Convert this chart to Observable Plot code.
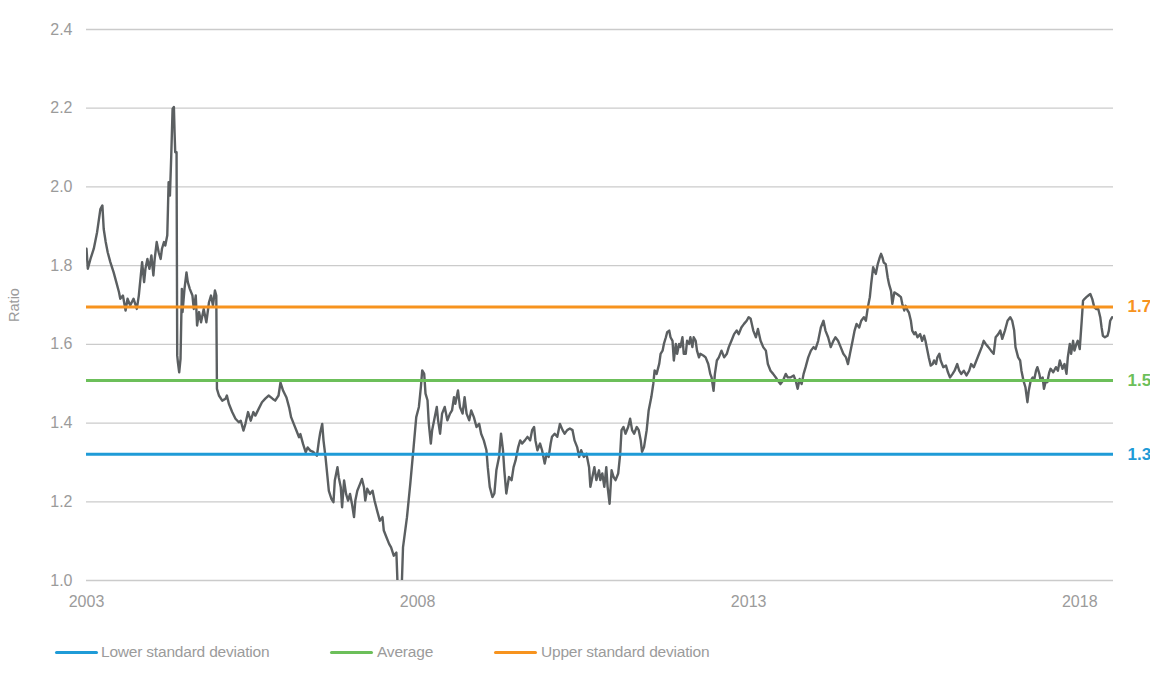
<!DOCTYPE html>
<html>
<head>
<meta charset="utf-8">
<script src="https://cdn.jsdelivr.net/npm/d3@7"></script>
<script src="https://cdn.jsdelivr.net/npm/@observablehq/plot@0.6"></script>
<style>
  html, body { margin: 0; padding: 0; background: #fff; }
  #wrap { position: relative; width: 1150px; height: 682px; font-family: "Liberation Sans", Arial, sans-serif; }
  #wrap svg { display: block; overflow: visible; }
  .lg-line { position: absolute; height: 3px; border-radius: 2px; top: 651px; width: 43px; }
  .lg-text { position: absolute; top: 642px; font-size: 15.5px; color: #9b9b9b; line-height: 19px; white-space: nowrap; letter-spacing: -0.2px; }
</style>
</head>
<body>
<div id="wrap"></div>
<script>
// ---- Data ----
const years1 = [2003.00,2003.02,2003.06,2003.11,2003.16,2003.21,2003.24,2003.26,2003.29,2003.32,
2003.36,2003.41,2003.45,2003.49,2003.51,2003.55,2003.59,2003.62,2003.66,2003.71,
2003.76,2003.79,2003.82,2003.84,2003.87,2003.89,2003.92,2003.95,2003.98,2004.01,
2004.03,2004.06,2004.09,2004.12,2004.14,2004.17,2004.19,2004.22,2004.23,2004.24,
2004.26,2004.28,2004.30,2004.32,2004.33,2004.34,2004.36,2004.37,2004.38,2004.40,
2004.42,2004.44,2004.45,2004.48,2004.51,2004.53,2004.56,2004.60,2004.62,2004.65,
2004.67,2004.70,2004.73,2004.77,2004.81,2004.85,2004.88,2004.91,2004.94,2004.96,
2004.97,2005.00,2005.05,2005.10,2005.12,2005.15,2005.20,2005.25,2005.30,2005.33,
2005.37,2005.40,2005.44,2005.48,2005.52,2005.55,2005.60,2005.65,2005.70,2005.75,
2005.81,2005.85,2005.90];
const ratios1 = [1.843,1.792,1.817,1.843,1.885,1.944,1.953,1.893,1.860,1.834,
1.809,1.783,1.758,1.733,1.716,1.724,1.686,1.716,1.699,1.716,
1.690,1.724,1.775,1.809,1.758,1.792,1.817,1.792,1.826,1.775,
1.817,1.860,1.834,1.817,1.843,1.860,1.851,1.877,1.944,2.012,
1.978,2.080,2.198,2.203,2.139,2.088,2.088,1.572,1.555,1.529,
1.563,1.741,1.682,1.741,1.783,1.758,1.741,1.724,1.690,1.724,
1.648,1.682,1.656,1.690,1.656,1.707,1.724,1.699,1.737,1.724,
1.487,1.470,1.457,1.462,1.470,1.449,1.428,1.411,1.402,1.406,
1.381,1.398,1.428,1.406,1.428,1.419,1.436,1.453,1.462,1.470,
1.462,1.457,1.470];

const years2 = [2005.93,2005.97,2006.02,2006.06,2006.09,2006.13,2006.17,2006.21,2006.23,2006.27,
2006.31,2006.34,2006.38,2006.43,2006.48,2006.51,2006.53,2006.56,2006.58,2006.61,
2006.64,2006.66,2006.70,2006.73,2006.75,2006.79,2006.81,2006.84,2006.86,2006.89,
2006.92,2006.95,2006.98,2007.01,2007.04,2007.06,2007.09,2007.13,2007.16,2007.19,
2007.21,2007.24,2007.28,2007.32,2007.35,2007.39,2007.43,2007.47,2007.49,2007.53,
2007.57,2007.60,2007.64,2007.68,2007.70,2007.76,2007.78];
const ratios2 = [1.503,1.482,1.465,1.440,1.415,1.398,1.381,1.364,1.372,1.347,
1.326,1.338,1.330,1.326,1.317,1.355,1.376,1.398,1.355,1.313,
1.262,1.228,1.207,1.199,1.254,1.288,1.262,1.237,1.186,1.254,
1.220,1.203,1.220,1.194,1.161,1.203,1.228,1.245,1.258,1.237,
1.203,1.233,1.220,1.228,1.203,1.177,1.152,1.161,1.127,1.110,
1.093,1.084,1.063,1.071,0.980,0.980,1.084];

const years3 = [2007.84,2007.89,2007.94,2007.98,2008.02,2008.05,2008.07,2008.10,2008.12,2008.15,
2008.17,2008.20,2008.22,2008.25,2008.29,2008.31,2008.34,2008.37,2008.41,2008.45,
2008.49,2008.52,2008.55,2008.57,2008.61,2008.64,2008.68,2008.71,2008.74,2008.78,
2008.81,2008.85,2008.89,2008.93,2008.96,2009.00,2009.04,2009.06,2009.09,2009.13,
2009.16,2009.19,2009.23,2009.26,2009.29,2009.31,2009.34,2009.38,2009.42,2009.45,
2009.48,2009.52,2009.55,2009.58,2009.62,2009.66,2009.70,2009.73,2009.76,2009.78,
2009.81,2009.85,2009.88,2009.92,2009.95,2009.98,2010.01,2010.03,2010.07,2010.11,
2010.15,2010.19,2010.22,2010.26,2010.30,2010.34,2010.37,2010.41,2010.44,2010.47,
2010.51,2010.55,2010.59,2010.61,2010.64,2010.67,2010.70,2010.74,2010.76,2010.79,
2010.82,2010.85,2010.87,2010.90,2010.93,2010.96,2010.99,2011.03,2011.06,2011.08,
2011.11,2011.14,2011.18,2011.21,2011.24,2011.27,2011.31,2011.34,2011.37,2011.39,
2011.42,2011.46,2011.49,2011.53,2011.56,2011.58,2011.61,2011.65,2011.67];
const ratios3 = [1.161,1.246,1.339,1.415,1.441,1.492,1.534,1.525,1.475,1.458,
1.398,1.348,1.382,1.407,1.441,1.407,1.373,1.424,1.441,1.407,
1.424,1.432,1.466,1.449,1.483,1.441,1.424,1.466,1.424,1.407,
1.432,1.415,1.390,1.398,1.373,1.356,1.331,1.288,1.238,1.212,
1.221,1.280,1.314,1.373,1.331,1.280,1.221,1.263,1.255,1.288,
1.305,1.339,1.356,1.348,1.356,1.365,1.356,1.382,1.390,1.356,
1.331,1.348,1.331,1.297,1.322,1.314,1.348,1.365,1.373,1.365,
1.398,1.382,1.373,1.382,1.386,1.382,1.356,1.339,1.314,1.331,
1.314,1.322,1.288,1.238,1.263,1.288,1.255,1.280,1.255,1.272,
1.238,1.288,1.238,1.195,1.280,1.263,1.255,1.272,1.322,1.382,
1.390,1.373,1.390,1.411,1.382,1.373,1.390,1.382,1.356,1.327,
1.339,1.382,1.432,1.466,1.500,1.534,1.525,1.551,1.576];

const years4 = [2011.70,2011.72,2011.75,2011.77,2011.80,2011.82,2011.85,2011.87,2011.90,2011.92,
2011.95,2011.97,2012.00,2012.02,2012.05,2012.07,2012.10,2012.12,2012.15,2012.17,
2012.20,2012.22,2012.25,2012.27,2012.32,2012.35,2012.39,2012.42,2012.44,2012.47,
2012.49,2012.52,2012.55,2012.59,2012.63,2012.67,2012.70,2012.74,2012.78,2012.82,
2012.85,2012.89,2012.93,2012.97,2013.00,2013.03,2013.07,2013.11,2013.14,2013.18,
2013.22,2013.26,2013.29,2013.33,2013.37,2013.41,2013.44,2013.48,2013.52,2013.56,
2013.59,2013.63,2013.68,2013.71,2013.74,2013.77,2013.80,2013.83,2013.86,2013.90,
2013.94,2013.98,2014.01,2014.05,2014.09,2014.13,2014.16,2014.20,2014.24,2014.28,
2014.31,2014.35,2014.39,2014.43,2014.47,2014.50,2014.53,2014.57,2014.60,2014.63,
2014.67,2014.70,2014.74,2014.77,2014.80,2014.83,2014.85,2014.88,2014.92,2014.95,
2014.98];
const ratios4 = [1.584,1.601,1.618,1.631,1.635,1.618,1.609,1.559,1.601,1.576,
1.601,1.593,1.618,1.576,1.576,1.609,1.601,1.618,1.593,1.618,
1.609,1.584,1.567,1.576,1.571,1.567,1.550,1.525,1.516,1.482,
1.525,1.559,1.567,1.584,1.567,1.576,1.593,1.609,1.626,1.635,
1.626,1.643,1.652,1.660,1.669,1.665,1.635,1.618,1.639,1.609,
1.593,1.584,1.550,1.533,1.525,1.516,1.508,1.499,1.508,1.525,
1.516,1.516,1.521,1.508,1.487,1.512,1.499,1.525,1.542,1.567,
1.584,1.593,1.588,1.609,1.643,1.660,1.635,1.618,1.593,1.609,
1.618,1.609,1.593,1.576,1.567,1.550,1.576,1.609,1.635,1.652,
1.643,1.660,1.669,1.660,1.694,1.720,1.753,1.796,1.779,1.804,
1.821];

const years5 = [2015.00,2015.02,2015.04,2015.07,2015.10,2015.12,2015.15,2015.17,2015.20,2015.24,
2015.27,2015.30,2015.32,2015.35,2015.37,2015.40,2015.42,2015.45,2015.47,2015.50,
2015.52,2015.55,2015.59,2015.62,2015.65,2015.67,2015.70,2015.72,2015.75,2015.78,
2015.80,2015.83,2015.85,2015.88,2015.90,2015.94,2015.98,2016.01,2016.04,2016.08,
2016.11,2016.15,2016.18,2016.21,2016.25,2016.29,2016.33,2016.36,2016.40,2016.44,
2016.48,2016.52,2016.55,2016.58,2016.62,2016.66,2016.70,2016.73,2016.77,2016.80,
2016.83,2016.87,2016.91,2016.95,2016.98,2017.01,2017.03,2017.07,2017.10,2017.12,
2017.15,2017.18,2017.21,2017.23,2017.26,2017.29,2017.31,2017.34,2017.36,2017.39,
2017.41,2017.44,2017.46,2017.49,2017.51,2017.54,2017.56,2017.60,2017.64,2017.67,
2017.70,2017.74,2017.77,2017.80,2017.82,2017.85,2017.87,2017.90,2017.92,2017.95,
2017.97,2018.00,2018.03,2018.05,2018.07,2018.10,2018.13,2018.16,2018.19,2018.22,
2018.25,2018.28,2018.31,2018.33,2018.35,2018.38,2018.42,2018.44,2018.46,2018.49];
const ratios5 = [1.830,1.821,1.808,1.804,1.770,1.753,1.736,1.703,1.732,1.728,
1.724,1.720,1.703,1.686,1.698,1.686,1.681,1.660,1.635,1.626,
1.631,1.618,1.626,1.609,1.622,1.609,1.584,1.567,1.546,1.550,
1.559,1.550,1.567,1.576,1.559,1.542,1.546,1.529,1.516,1.525,
1.533,1.550,1.533,1.525,1.533,1.521,1.533,1.550,1.542,1.559,
1.576,1.593,1.609,1.601,1.593,1.584,1.576,1.618,1.626,1.635,
1.614,1.635,1.660,1.669,1.660,1.635,1.593,1.567,1.559,1.533,
1.508,1.491,1.453,1.482,1.508,1.516,1.508,1.533,1.542,1.525,
1.508,1.516,1.487,1.508,1.504,1.529,1.538,1.529,1.542,1.533,
1.559,1.538,1.550,1.525,1.567,1.601,1.576,1.609,1.584,1.601,
1.609,1.588,1.660,1.711,1.715,1.720,1.724,1.728,1.715,1.694,
1.690,1.690,1.669,1.643,1.622,1.618,1.622,1.635,1.660,1.669];

// Reference lines
const refNames  = ["Lower standard deviation", "Average", "Upper standard deviation"];
const refValues = [1.321, 1.508, 1.695];
const refLabels = ["1.3", "1.5", "1.7"];

// Axes
const yTicks = [1.0, 1.2, 1.4, 1.6, 1.8, 2.0, 2.2, 2.4];
const xTicks = [2003, 2008, 2013, 2018];
const xDomain = [2003, 2018.51];
const yDomain = [1.0, 2.4];

// ---- Styles ----
const refColors = ["#1f9bd7", "#6cbf5a", "#f7931e"];
const lineColor = "#5b5f61";
const gridColor = "#cbcbcb";
const textColor = "#9b9b9b";
const fontFam = '"Liberation Sans", Arial, sans-serif';

// ---- Build tables ----
const allYears = [...years1, ...years2, ...years3, ...years4, ...years5];
const allRatios = [...ratios1, ...ratios2, ...ratios3, ...ratios4, ...ratios5];
const series = allYears.map((y, i) => ({ year: y, ratio: allRatios[i] }));
const refs = refValues.map((v, i) => ({ name: refNames[i], value: v, label: refLabels[i], color: refColors[i] }));

const chart = Plot.plot({
  width: 1150,
  height: 615,
  marginLeft: 86,
  marginRight: 37,
  marginTop: 29,
  marginBottom: 35,
  style: { fontFamily: fontFam, fontSize: "16px", color: textColor, background: "#fff", overflow: "visible" },
  x: { type: "linear", domain: xDomain, ticks: xTicks, tickFormat: d => String(d), tickSize: 0, tickPadding: 15, label: null },
  y: { domain: yDomain, ticks: yTicks, tickFormat: d3.format(".1f"), tickSize: 0, tickPadding: 14, label: null },
  color: { type: "identity" },
  marks: [
    Plot.gridY(yTicks, { stroke: gridColor, strokeOpacity: 1, strokeWidth: 1.3 }),
    Plot.line(series, { x: "year", y: "ratio", stroke: lineColor, strokeWidth: 2.4, clip: true }),
    Plot.ruleY(refs, { y: "value", stroke: "color", strokeWidth: 3 }),
    Plot.text(refs, { y: "value", text: "label", fill: "color", frameAnchor: "right", textAnchor: "start", dx: 14, fontSize: 17, fontWeight: "bold" }),
    Plot.text(["Ratio"], { frameAnchor: "left", textAnchor: "middle", rotate: -90, dx: -72, fill: textColor, fontSize: 14.5 })
  ]
});

const wrap = document.getElementById("wrap");
wrap.appendChild(chart);

// Legend (HTML, below the SVG)
const legendPos = [{ line: 55, text: 101 }, { line: 330, text: 377 }, { line: 494, text: 541 }];
refs.forEach((r, i) => {
  const ln = document.createElement("div");
  ln.className = "lg-line";
  ln.style.left = legendPos[i].line + "px";
  ln.style.background = r.color;
  wrap.appendChild(ln);
  const tx = document.createElement("div");
  tx.className = "lg-text";
  tx.style.left = legendPos[i].text + "px";
  tx.textContent = r.name;
  wrap.appendChild(tx);
});
</script>
</body>
</html>
